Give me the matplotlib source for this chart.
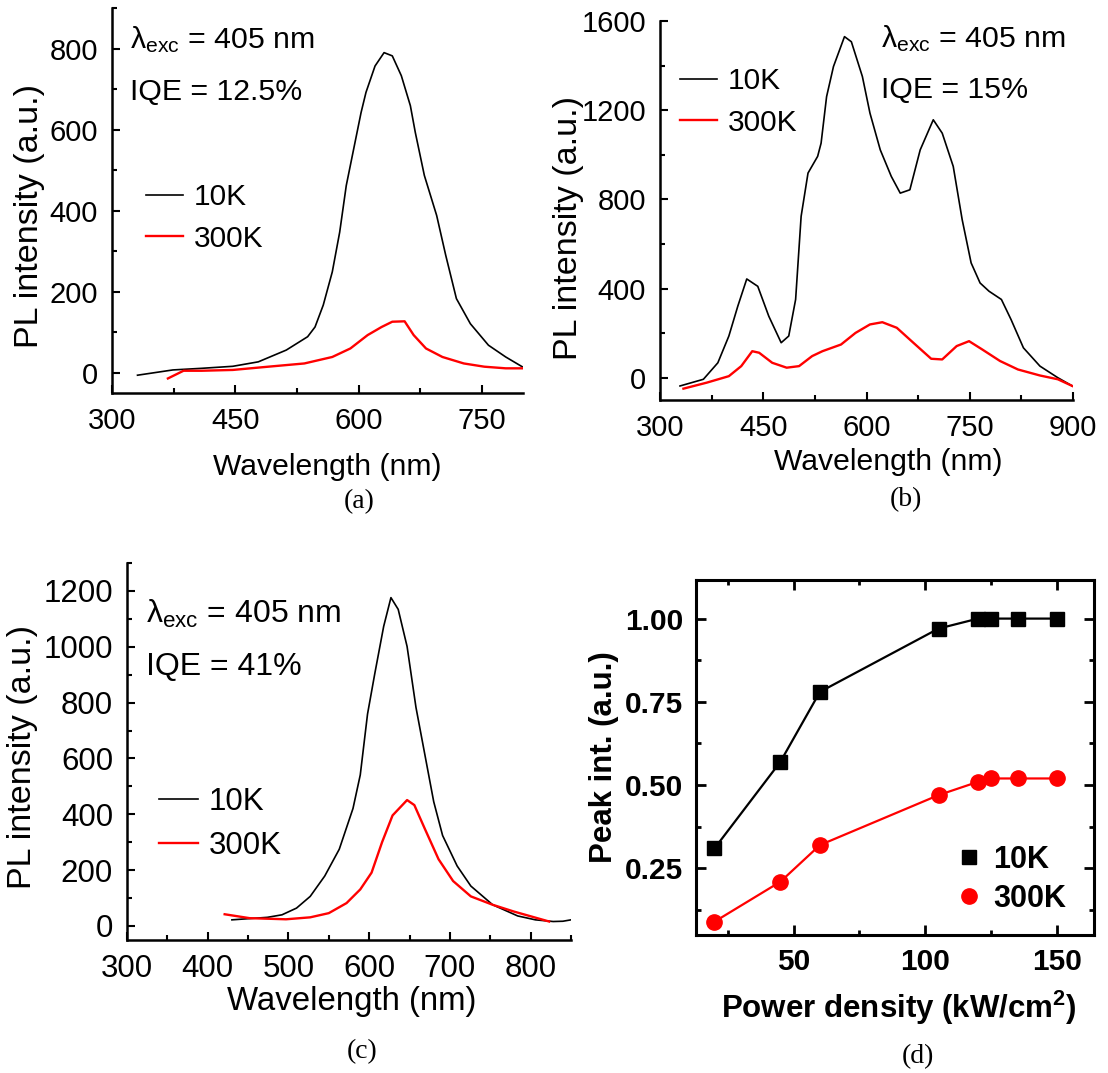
import matplotlib
matplotlib.use('Agg')
import matplotlib.pyplot as plt
from matplotlib.ticker import MultipleLocator, FormatStrFormatter

plt.rcParams['font.family'] = ['Liberation Sans', 'DejaVu Sans']
plt.rcParams['mathtext.fontset'] = 'custom'
plt.rcParams['mathtext.rm'] = 'Liberation Sans'
plt.rcParams['mathtext.it'] = 'Liberation Sans:italic'
plt.rcParams['mathtext.bf'] = 'Liberation Sans:bold'
plt.rcParams['lines.solid_joinstyle'] = 'round'

RED = '#ff0000'

# (a) spectra
wl_a_10K = [331, 374, 409, 447, 478, 512, 538, 547, 557, 568, 577, 585, 594, 603, 609, 620, 631,
            641, 652, 663, 669, 680, 695, 706, 719, 736, 758, 779, 799]
pl_a_10K = [-6, 7, 11, 16, 27, 56, 89, 113, 167, 249, 347, 462, 552, 642, 692, 757, 790,
            782, 733, 659, 593, 487, 388, 290, 183, 121, 68, 39, 15]
wl_a_300K = [368, 387, 409, 447, 490, 534, 568, 590, 611, 628, 641, 656, 667, 682, 702, 728, 753, 779, 799]
pl_a_300K = [-14, 5, 5, 7, 15, 23, 39, 60, 93, 113, 126, 127, 93, 60, 39, 23, 15, 11, 11]

# (b) spectra
wl_b_10K = [329, 363, 384, 400, 413, 426, 442, 458, 476, 487, 497, 505, 515, 529, 534, 542, 552, 568,
            578, 594, 605, 620, 636, 649, 663, 678, 697, 710, 726, 739, 752, 765, 778, 796, 810,
            828, 852, 878, 899]
pl_b_10K = [-37, -7, 67, 187, 321, 443, 410, 276, 157, 187, 351, 724, 918, 993, 1052, 1261, 1396, 1530,
            1507, 1351, 1187, 1022, 903, 828, 843, 1022, 1157, 1097, 948, 709, 515, 425, 388, 351, 261,
            134, 52, 0, -37]
wl_b_300K = [334, 368, 400, 418, 434, 444, 463, 484, 502, 521, 536, 563, 584, 605, 623, 644, 668,
             694, 710, 731, 749, 768, 794, 820, 852, 878, 899]
pl_b_300K = [-49, -22, 7, 52, 119, 112, 67, 45, 52, 97, 119, 149, 201, 239, 249, 224, 157,
             85, 82, 142, 164, 127, 75, 37, 10, -7, -37]

# (c) spectra
wl_c_10K = [430, 474, 492, 510, 527, 545, 563, 580, 589, 598, 607, 618, 627, 636, 647, 658, 669,
            680, 691, 709, 726, 753, 784, 806, 828, 840, 850]
pl_c_10K = [22, 31, 40, 64, 106, 179, 275, 421, 541, 759, 904, 1073, 1176, 1134, 1001, 783, 614,
            445, 324, 215, 143, 76, 36, 22, 16, 17, 22]
wl_c_300K = [421, 452, 497, 527, 550, 572, 589, 603, 616, 629, 647, 656, 669, 686, 704, 726, 753,
             779, 801, 823]
pl_c_300K = [42, 28, 24, 31, 46, 82, 131, 191, 300, 396, 451, 433, 348, 239, 161, 106, 76,
             52, 34, 16]

# (d) peak intensity vs power density
power = [20, 45, 60, 105, 120, 125, 135, 150]
peak_10K = [0.31, 0.57, 0.78, 0.97, 1.00, 1.00, 1.00, 1.00]
peak_300K = [0.09, 0.21, 0.32, 0.47, 0.51, 0.52, 0.52, 0.52]

fig = plt.figure(figsize=(11.08, 10.73), dpi=100)


def spec_axes(rect, xlim, ylim, xmaj, xmin, ymaj, ymin, tsize, xlsize, ylsize):
    ax = fig.add_axes(rect)
    ax.set_xlim(*xlim)
    ax.set_ylim(*ylim)
    for s in ['top', 'right']:
        ax.spines[s].set_visible(False)
    for s in ['left', 'bottom']:
        ax.spines[s].set_linewidth(1.8)
    ax.xaxis.set_major_locator(MultipleLocator(xmaj))
    ax.xaxis.set_minor_locator(MultipleLocator(xmin))
    ax.yaxis.set_major_locator(MultipleLocator(ymaj))
    ax.yaxis.set_minor_locator(MultipleLocator(ymin))
    ax.tick_params(which='both', direction='in', width=1.5, labelsize=tsize, pad=10)
    ax.tick_params(which='major', length=6)
    ax.tick_params(which='minor', length=3.5)
    ax.set_xlabel('Wavelength (nm)', fontsize=xlsize)
    ax.set_ylabel('PL intensity (a.u.)', fontsize=ylsize)
    return ax


def spec_text(ax, x, y1, y2, iqe, size):
    ax.text(x, y1, r'$\mathrm{\lambda}_{\mathrm{exc}}$ = 405 nm', transform=ax.transAxes,
            fontsize=size, va='baseline')
    ax.text(x, y2, 'IQE = ' + iqe, transform=ax.transAxes, fontsize=size, va='baseline')


def spec_legend(ax, x, y, size):
    ax.legend(loc='upper left', bbox_to_anchor=(x, y), frameon=False, fontsize=size,
              borderpad=0, handlelength=1.25, handletextpad=0.35, labelspacing=0.45,
              borderaxespad=0)


# panel a
ax = spec_axes([0.1011, 0.6337, 0.3709, 0.3588], (300, 800), (-50, 900), 150, 75, 200, 100,
               21, 21.7, 24.5)
ax.plot(wl_a_10K, pl_a_10K, color='black', lw=1.2, label='10K')
ax.plot(wl_a_300K, pl_a_300K, color=RED, lw=1.7, label='300K')
ax.xaxis.set_label_coords(0.523, -0.155)
ax.yaxis.set_label_coords(-0.163, 0.46)
spec_text(ax, 0.044, 0.896, 0.761, '12.5%', 21.8)
spec_legend(ax, 0.083, 0.545, 21.5)

# panel b
ax = spec_axes([0.5957, 0.6272, 0.3727, 0.3532], (300, 900), (-100, 1600), 150, 75, 400, 200,
               21, 21.7, 24.5)
ax.plot(wl_b_10K, pl_b_10K, color='black', lw=1.2, label='10K')
ax.plot(wl_b_300K, pl_b_300K, color=RED, lw=1.7, label='300K')
ax.xaxis.set_label_coords(0.552, -0.127)
ax.yaxis.set_label_coords(-0.185, 0.454)
spec_text(ax, 0.535, 0.931, 0.797, '15%', 21.8)
spec_legend(ax, 0.048, 0.878, 21.5)

# panel c
ax = spec_axes([0.1146, 0.1240, 0.4007, 0.3513], (300, 850), (-50, 1300), 100, 50, 200, 100,
               22.5, 23.8, 24.5)
ax.plot(wl_c_10K, pl_c_10K, color='black', lw=1.2, label='10K')
ax.plot(wl_c_300K, pl_c_300K, color=RED, lw=1.7, label='300K')
ax.xaxis.set_label_coords(0.507, -0.122)
ax.yaxis.set_label_coords(-0.2, 0.485)
spec_text(ax, 0.043, 0.841, 0.703, '41%', 23)
spec_legend(ax, 0.072, 0.405, 22.5)

# panel d
ax = fig.add_axes([0.6282, 0.1286, 0.3592, 0.3309])
ax.plot(power, peak_10K, color='black', lw=1.6, zorder=2)
ax.plot(power, peak_300K, color=RED, lw=1.6, zorder=2)
ax.plot(power, peak_10K, 's', color='black', ms=10, ls='none', label='10K', zorder=3)
ax.plot(power, peak_300K, 'o', color=RED, ms=11, ls='none', label='300K', zorder=3)
ax.set_xlim(13, 164)
ax.set_ylim(0.05, 1.116)
for s in ax.spines.values():
    s.set_linewidth(2.2)
ax.xaxis.set_major_locator(MultipleLocator(50))
ax.xaxis.set_minor_locator(MultipleLocator(25))
ax.yaxis.set_major_locator(MultipleLocator(0.25))
ax.yaxis.set_minor_locator(MultipleLocator(0.125))
ax.yaxis.set_major_formatter(FormatStrFormatter('%.2f'))
ax.tick_params(which='both', direction='in', top=True, right=True, width=2, labelsize=21.5)
ax.tick_params(which='major', length=7, pad=9)
ax.tick_params(which='minor', length=3.6)
for lbl in ax.get_xticklabels() + ax.get_yticklabels():
    lbl.set_fontweight('bold')
ax.set_xlabel(r'Power density (kW/cm$^{\mathbf{2}}$)', fontsize=22.5, fontweight='bold')
ax.set_ylabel('Peak int. (a.u.)', fontsize=22.5, fontweight='bold')
ax.xaxis.set_label_coords(0.51, -0.15)
ax.yaxis.set_label_coords(-0.193, 0.5)
ax.legend(loc='lower right', bbox_to_anchor=(0.93, 0.06), frameon=False,
          prop={'size': 22, 'weight': 'bold'}, handlelength=0.6, handletextpad=0.5,
          labelspacing=0.3, borderpad=0, borderaxespad=0)

# panel captions
for lab, x, y in [('(a)', 359, 502), ('(b)', 906, 500), ('(c)', 362, 1052), ('(d)', 918, 1057)]:
    fig.text(x / 1108, 1 - y / 1073, lab, family='Liberation Serif', fontsize=20,
             ha='center', va='center')

fig.savefig('out.png', dpi=100)
